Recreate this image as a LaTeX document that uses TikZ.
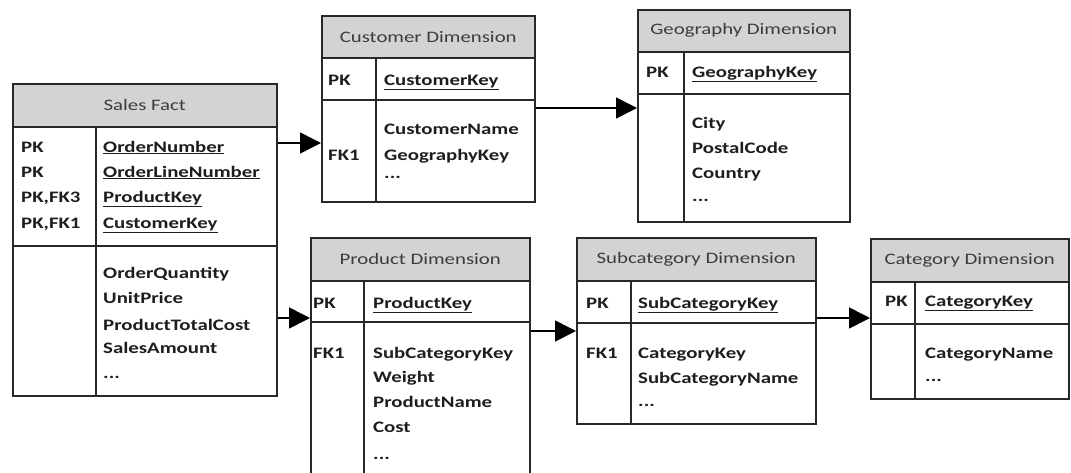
\documentclass[tikz,border=0pt]{standalone}
\usepackage{fontspec}
\newfontfamily\calfont[FakeStretch=1.3]{Carlito}
\usetikzlibrary{arrows.meta}
\definecolor{hdrfill}{RGB}{211,211,211}
\definecolor{linec}{RGB}{40,40,40}
\definecolor{bodytxt}{RGB}{30,30,30}
\definecolor{hdrtxt}{RGB}{60,60,60}
\tikzset{
  tbl/.style={draw=linec, line width=1.5pt, anchor=north west, inner sep=0pt},
  hdr/.style={draw=linec, line width=1.5pt, fill=hdrfill, anchor=north west, inner sep=0pt,
              font=\calfont\fontsize{16}{19}\selectfont, text=hdrtxt},
  fld/.style={anchor=base west, inner sep=0pt, font=\calfont\bfseries\fontsize{16}{19}\selectfont, text=bodytxt},
  div/.style={draw=linec, line width=1.5pt},
  arr/.style={draw=black, line width=1.6pt, -{Triangle[length=21pt,width=21pt]}}
}
\newcommand{\tx}[4]{\node[fld] (#1) at (#2,#3) {#4};}
\begin{document}
\begin{tikzpicture}[x=1pt,y=-1pt]
\useasboundingbox (0,0) rectangle (1071,472);
\fill[white] (0,0) rectangle (1071,472);

% ---------- Sales Fact ----------
\node[tbl, minimum width=264pt, minimum height=312pt] (sales) at (12,83) {};
\node[hdr, minimum width=264pt, minimum height=43pt] (salesH) at (12,83) {Sales Fact};
\draw[div] (12,246) -- (276,246);
\draw[div] (96,126) -- (96,395);
\tx{sk1}{21}{152}{PK}
\tx{sk2}{21}{177}{PK}
\tx{sk3}{21}{202}{PK,FK3}
\tx{sk4}{21}{228}{PK,FK1}
\tx{sf1}{103}{152}{\underline{OrderNumber}}
\tx{sf2}{103}{177}{\underline{OrderLineNumber}}
\tx{sf3}{103}{202}{\underline{ProductKey}}
\tx{sf4}{103}{228}{\underline{CustomerKey}}
\tx{sf5}{103}{278}{OrderQuantity}
\tx{sf6}{103}{303}{UnitPrice}
\tx{sf7}{103}{330}{ProductTotalCost}
\tx{sf8}{103}{353}{SalesAmount}
\tx{sf9}{103}{378}{...}

% ---------- Customer Dimension ----------
\node[tbl, minimum width=213pt, minimum height=186pt] (cust) at (321,15) {};
\node[hdr, minimum width=213pt, minimum height=42pt] (custH) at (321,15) {Customer Dimension};
\draw[div] (321,100) -- (534,100);
\draw[div] (376,57) -- (376,201);
\tx{ck1}{328}{85}{PK}
\tx{ck2}{328}{160}{FK1}
\tx{cf1}{384}{85}{\underline{CustomerKey}}
\tx{cf2}{384}{134}{CustomerName}
\tx{cf3}{384}{160}{GeographyKey}
\tx{cf4}{384}{178}{...}

% ---------- Geography Dimension ----------
\node[tbl, minimum width=212pt, minimum height=212pt] (geo) at (637,9) {};
\node[hdr, minimum width=212pt, minimum height=42pt] (geoH) at (637,9) {Geography Dimension};
\draw[div] (637,94) -- (849,94);
\draw[div] (684,51) -- (684,221);
\tx{gk1}{646}{77}{PK}
\tx{gf1}{692}{77}{\underline{GeographyKey}}
\tx{gf2}{692}{128}{City}
\tx{gf3}{692}{153}{PostalCode}
\tx{gf4}{692}{178}{Country}
\tx{gf5}{692}{201}{...}

% ---------- Product Dimension ----------
\node[tbl, minimum width=219pt, minimum height=240pt] (prod) at (310,237) {};
\node[hdr, minimum width=219pt, minimum height=43pt] (prodH) at (310,237) {Product Dimension};
\draw[div] (310,322) -- (529,322);
\draw[div] (364,280) -- (364,477);
\tx{pk1}{313}{308}{PK}
\tx{pk2}{313}{358}{FK1}
\tx{pf1}{373}{308}{\underline{ProductKey}}
\tx{pf2}{373}{358}{SubCategoryKey}
\tx{pf3}{373}{382}{Weight}
\tx{pf4}{373}{407}{ProductName}
\tx{pf5}{373}{432}{Cost}
\tx{pf6}{373}{459}{...}

% ---------- Subcategory Dimension ----------
\node[tbl, minimum width=239pt, minimum height=186pt] (sub) at (576,237) {};
\node[hdr, minimum width=239pt, minimum height=43pt] (subH) at (576,237) {Subcategory Dimension};
\draw[div] (576,323) -- (815,323);
\draw[div] (631,280) -- (631,423);
\tx{uk1}{586}{308}{PK}
\tx{uk2}{586}{358}{FK1}
\tx{uf1}{638}{308}{\underline{SubCategoryKey}}
\tx{uf2}{638}{358}{CategoryKey}
\tx{uf3}{638}{383}{SubCategoryName}
\tx{uf4}{638}{406}{...}

% ---------- Category Dimension ----------
\node[tbl, minimum width=198pt, minimum height=160pt] (cat) at (870,238) {};
\node[hdr, minimum width=198pt, minimum height=43pt] (catH) at (870,238) {Category Dimension};
\draw[div] (870,324) -- (1068,324);
\draw[div] (915,281) -- (915,398);
\tx{ak1}{885}{306}{PK}
\tx{af1}{925}{306}{\underline{CategoryKey}}
\tx{af2}{925}{358}{CategoryName}
\tx{af3}{925}{381}{...}

% ---------- connectors ----------
\draw[arr] (sales.east |- 0,143) -- (cust.west |- 0,143);
\draw[arr] (cust.east |- 0,108) -- (geo.west |- 0,108);
\draw[arr] (sales.east |- 0,318) -- (prod.west |- 0,318);
\draw[arr] (prod.east |- 0,331) -- (sub.west |- 0,331);
\draw[arr] (sub.east |- 0,318) -- (cat.west |- 0,318);
\end{tikzpicture}
\end{document}
